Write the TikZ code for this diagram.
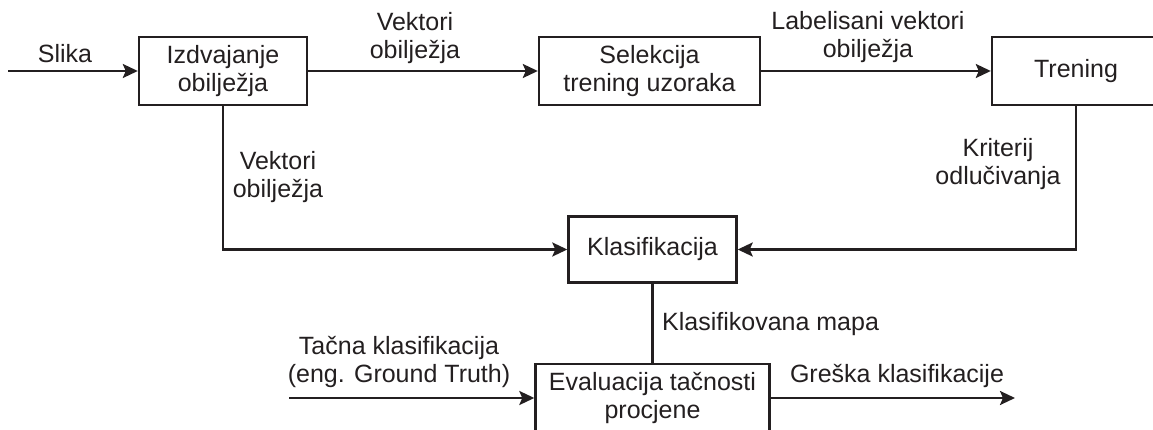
\documentclass[tikz,border=0pt]{standalone}
\usepackage{fontspec}
\setmainfont{Liberation Sans}
\usetikzlibrary{arrows.meta}
\definecolor{ink}{HTML}{231F20}
\begin{document}
\begin{tikzpicture}[x=1pt,y=-1pt,
  every node/.style={font=\fontsize{25}{28}\selectfont, text=ink, inner sep=0pt},
  block/.style={draw=ink, line width=2.4pt, fill=white, align=center},
  flow/.style={draw=ink, line width=2.4pt},
  tip/.style={-{Stealth[length=15pt,width=14pt,inset=3pt]}},
  lbl/.style={align=center}]
\useasboundingbox (0,0) rectangle (1153,430);
\clip (0,0) rectangle (1153,430);

% processing blocks
\node[block, minimum width=168pt, minimum height=68pt] (izd) at (223,71) {Izdvajanje\\obilježja};
\node[block, minimum width=221pt, minimum height=68pt] (sel) at (649.5,71) {Selekcija\\trening uzoraka};
\node[block, minimum width=168pt, minimum height=68pt] (tre) at (1076,71) {Trening};
\node[block, minimum width=168pt, minimum height=66pt] (kla) at (652.5,249.5) {Klasifikacija};
\node[block, minimum width=234pt, minimum height=68pt] (eva) at (652.5,398) {Evaluacija tačnosti\\procjene};

% free ends of the input and output arrows
\coordinate (in) at (8,71);
\coordinate (gt) at (289,398);
\coordinate (out) at (1015,398);

% connector labels
\node[anchor=base] (lslika) at (65,63) {Slika};
\node[lbl] (lv1) at (415,38.5) {Vektori\\obilježja};
\node[lbl] (llab) at (868,37.5) {Labelisani vektori\\obilježja};
\node[lbl] (lv2) at (278,177.5) {Vektori\\obilježja};
\node[lbl] (lkrit) at (998,164) {Kriterij\\odlučivanja};
\node[anchor=base west] (lmap) at (662,330) {Klasifikovana mapa};
\node[lbl] (lgt) at (399,361.5) {Tačna klasifikacija\\(eng. Ground Truth)};
\node[anchor=base] (lerr) at (897,382) {Greška klasifikacije};

% connectors
\draw[flow,tip] (in) -- (izd.west);
\draw[flow,tip] (izd.east) -- (sel.west);
\draw[flow,tip] (sel.east) -- (tre.west);
\draw[flow,tip] (izd.south) |- (kla.west);
\draw[flow,tip] (tre.south) |- (kla.east);
\draw[flow] (kla.south) -- (eva.north);
\draw[flow,tip] (gt) -- (eva.west);
\draw[flow,tip] (eva.east) -- (out);
\end{tikzpicture}
\end{document}
